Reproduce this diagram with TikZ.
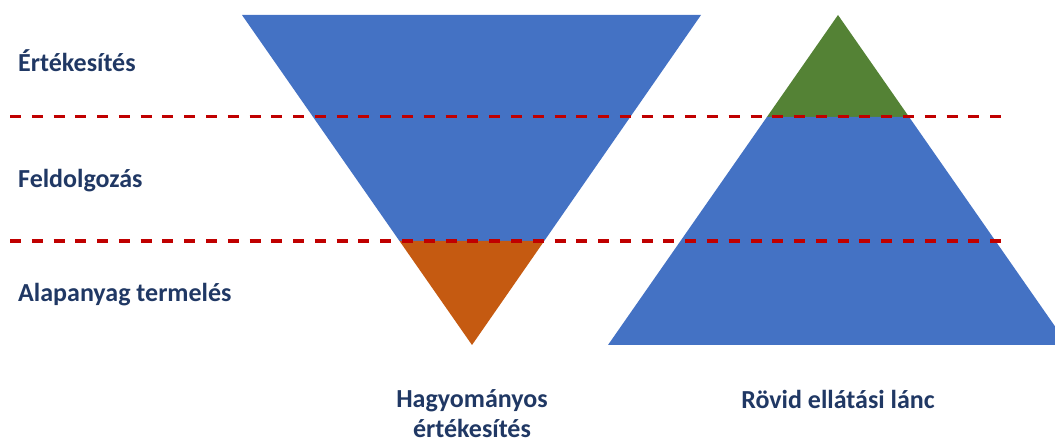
\documentclass[tikz,border=0pt]{standalone}
\usepackage{fontspec}
\setmainfont{Carlito}
\definecolor{triblue}{HTML}{4472C4}
\definecolor{triorange}{HTML}{C55A11}
\definecolor{trigreen}{HTML}{548235}
\definecolor{labelnavy}{HTML}{203864}
\definecolor{linered}{HTML}{C00000}
\begin{document}
\begin{tikzpicture}[x=1pt,y=-1pt,
  levellabel/.style={anchor=base west,inner sep=0pt,text=labelnavy,font=\fontsize{26}{30}\selectfont\bfseries},
  captionlabel/.style={anchor=base,inner sep=0pt,text=labelnavy,font=\fontsize{26}{30}\selectfont\bfseries,align=center},
  levelline/.style={draw=linered,line width=3.5pt,dash pattern=on 11pt off 10.78pt}]
\useasboundingbox (0,0) rectangle (1055,438);
\clip (0,0) rectangle (1055,438);
% inverted triangle
\fill[triblue] (242,15) -- (701,15) -- (544.2,241) -- (399.5,241) -- cycle;
\fill[triorange] (399.5,241) -- (544.2,241) -- (472,345) -- cycle;
% upright triangle
\fill[trigreen] (838,15) -- (909.1,117) -- (766.9,117) -- cycle;
\fill[triblue] (766.9,117) -- (909.1,117) -- (1068,345) -- (608,345) -- cycle;
% dashed level lines
\coordinate (l1a) at (10,116.5);
\coordinate (l1b) at (1001,116.5);
\coordinate (l2a) at (10,241);
\coordinate (l2b) at (1001,241);
\draw[levelline] (l1a) -- (l1b);
\draw[levelline] (l2a) -- (l2b);
% labels
\node[levellabel] (ert) at (18,71.5) {Értékesítés};
\node[levellabel] (feld) at (18,187.5) {Feldolgozás};
\node[levellabel] (alap) at (18,302) {Alapanyag termelés};
\node[captionlabel] (hagy) at (472,407) {Hagyományos};
\node[captionlabel] (hagy2) at (472,437) {értékesítés};
\node[captionlabel] (rovid) at (838,408) {Rövid ellátási lánc};
\end{tikzpicture}
\end{document}
